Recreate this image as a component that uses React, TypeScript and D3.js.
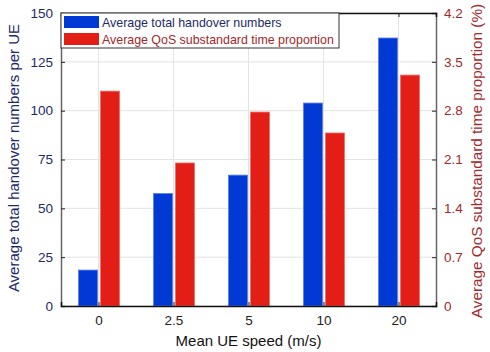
import React, { useEffect, useRef } from "react";
import * as d3 from "d3";

// data
const speeds = ["0", "2.5", "5", "10", "20"];
const handovers = [18.4, 57.6, 67, 103.9, 137.2];
const qosProportion = [3.08, 2.05, 2.78, 2.48, 3.31];
const leftTicks = [0, 25, 50, 75, 100, 125, 150];
const rightTicks = [0, 0.7, 1.4, 2.1, 2.8, 3.5, 4.2];

const BLUE = "#0039d4";
const RED = "#e31e17";
const NAVY = "#1c2a66";
const BROWN = "#a3282a";

const App = () => {
  const svgRef = useRef<SVGSVGElement>(null);

  useEffect(() => {
    const svg = d3.select(svgRef.current);
    svg.selectAll("*").remove();

    const left = 61, right = 436, top = 13, bottom = 306;
    const font = "Helvetica, Arial, 'Liberation Sans', sans-serif";

    const x = d3.scaleLinear().domain([-0.5, speeds.length - 0.5]).range([left, right]);
    const yL = d3.scaleLinear().domain([0, 150]).range([bottom, top]);
    const yR = d3.scaleLinear().domain([0, 4.2]).range([bottom, top]);

    svg.append("rect").attr("width", 490).attr("height", 352).attr("fill", "#fff");

    // grid
    const grid = svg.append("g").attr("stroke", "#e3e3e3").attr("stroke-width", 1);
    speeds.forEach((s, i) => {
      grid.append("line").attr("x1", x(i)).attr("x2", x(i)).attr("y1", top).attr("y2", bottom);
    });
    leftTicks.forEach((t) => {
      grid.append("line").attr("x1", left).attr("x2", right).attr("y1", yL(t)).attr("y2", yL(t));
    });

    // bars
    svg.append("g").selectAll("rect")
      .data(handovers)
      .join("rect")
      .attr("x", (d, i) => x(i) - 20)
      .attr("width", 19)
      .attr("y", (d) => yL(d))
      .attr("height", (d) => bottom - yL(d))
      .attr("fill", BLUE)
      .attr("stroke", "#5b7fe6")
      .attr("stroke-width", 0.8);

    svg.append("g").selectAll("rect")
      .data(qosProportion)
      .join("rect")
      .attr("x", (d, i) => x(i) + 2)
      .attr("width", 19)
      .attr("y", (d) => yR(d))
      .attr("height", (d) => bottom - yR(d))
      .attr("fill", RED)
      .attr("stroke", "#f06a66")
      .attr("stroke-width", 0.8);

    // axes
    const gL = svg.append("g").attr("transform", `translate(${left},0)`)
      .call(d3.axisLeft(yL).tickValues(leftTicks).tickSize(-4).tickPadding(8));
    gL.select(".domain").attr("stroke", "#666").attr("stroke-width", 1.5);
    gL.selectAll(".tick line").attr("stroke", "#222");
    gL.selectAll(".tick text").attr("fill", NAVY).attr("font-size", 13.5).attr("font-family", font);

    const gR = svg.append("g").attr("transform", `translate(${right},0)`)
      .call(d3.axisRight(yR).tickValues(rightTicks).tickSize(-4).tickPadding(8).tickFormat((d) => String(d)));
    gR.select(".domain").attr("stroke", "#666").attr("stroke-width", 1.5);
    gR.selectAll(".tick line").attr("stroke", "#222");
    gR.selectAll(".tick text").attr("fill", BROWN).attr("font-size", 13.5).attr("font-family", font);

    const gB = svg.append("g").attr("transform", `translate(0,${bottom})`)
      .call(d3.axisBottom(x).tickValues(d3.range(speeds.length)).tickFormat((d) => speeds[d as number]).tickSize(-4).tickPadding(9));
    gB.select(".domain").attr("stroke", "#111").attr("stroke-width", 1.5);
    gB.selectAll(".tick line").attr("stroke", "#222");
    gB.selectAll(".tick text").attr("fill", "#222").attr("font-size", 13.5).attr("font-family", font);

    const gT = svg.append("g").attr("transform", `translate(0,${top})`)
      .call(d3.axisTop(x).tickValues(d3.range(speeds.length)).tickFormat(() => "").tickSize(-4));
    gT.select(".domain").attr("stroke", "#111").attr("stroke-width", 1.5);
    gT.selectAll(".tick line").attr("stroke", "#222");

    // axis labels
    svg.append("text")
      .attr("transform", `translate(19,${158}) rotate(-90)`)
      .attr("text-anchor", "middle")
      .attr("fill", NAVY)
      .attr("font-size", 15)
      .attr("font-family", font)
      .text("Average total handover numbers per UE");

    svg.append("text")
      .attr("transform", `translate(482,${161}) rotate(-90)`)
      .attr("text-anchor", "middle")
      .attr("fill", BROWN)
      .attr("font-size", 15.3)
      .attr("font-family", font)
      .text("Average QoS substandard time proportion (%)");

    svg.append("text")
      .attr("x", (left + right) / 2)
      .attr("y", 346)
      .attr("text-anchor", "middle")
      .attr("fill", "#111")
      .attr("font-size", 15)
      .attr("font-family", font)
      .text("Mean UE speed (m/s)");

    // legend
    const lg = svg.append("g").attr("transform", `translate(${left},${top})`);
    lg.append("rect").attr("width", 278).attr("height", 35)
      .attr("fill", "#fff").attr("stroke", "#333").attr("stroke-width", 1);
    const items = [
      { label: "Average total handover numbers", color: BLUE, text: NAVY },
      { label: "Average QoS substandard time proportion", color: RED, text: BROWN },
    ];
    items.forEach((it, i) => {
      lg.append("rect").attr("x", 3).attr("y", 3 + i * 17).attr("width", 35).attr("height", 12).attr("fill", it.color);
      lg.append("text").attr("x", 41).attr("y", 13.5 + i * 17)
        .attr("fill", it.text).attr("font-size", 12.4).attr("font-family", font)
        .text(it.label);
    });
  }, []);

  return (
    <svg ref={svgRef} width={490} height={352} style={{ display: "block", position: "absolute", left: 0, top: 0 }} />
  );
};

export default App;
